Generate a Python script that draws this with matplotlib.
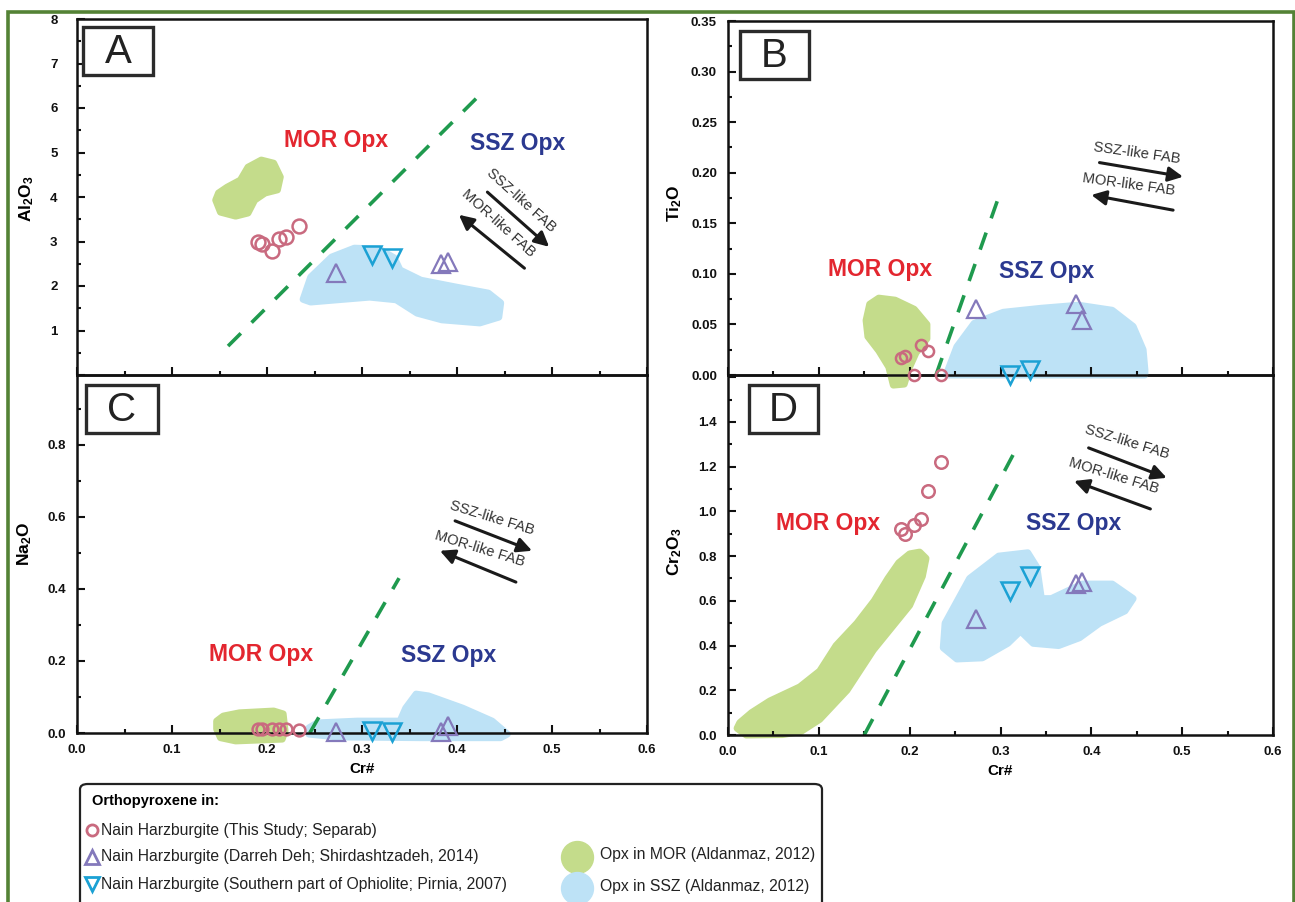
import matplotlib
matplotlib.use("Agg")
import matplotlib.pyplot as plt
from matplotlib import font_manager
from matplotlib.patches import Polygon, Rectangle, FancyBboxPatch
from matplotlib.lines import Line2D
from matplotlib.ticker import MultipleLocator

plt.rcParams["font.family"] = ["Liberation Sans", "DejaVu Sans"]
plt.rcParams["mathtext.fontset"] = "custom"
plt.rcParams["mathtext.rm"] = "Liberation Sans"
plt.rcParams["mathtext.bf"] = "Liberation Sans:bold"


def has_font(name):
    try:
        font_manager.findfont(font_manager.FontProperties(family=name),
                              fallback_to_default=False)
        return True
    except Exception:
        return False


NARROW = has_font("Liberation Sans Narrow")
NFONT = "Liberation Sans Narrow" if NARROW else "Liberation Sans"

W, H = 1295, 902

# ---- samples (Cr# shared across the four panels) ----
CR_SEPARAB  = [0.190, 0.195, 0.205, 0.213, 0.220, 0.234]
AL_SEPARAB  = [3.00, 2.95, 2.78, 3.05, 3.10, 3.35]
TI_SEPARAB  = [0.017, 0.019, 0.000, 0.030, 0.024, 0.000]
NA_SEPARAB  = [0.012, 0.012, 0.010, 0.010, 0.010, 0.008]
CRO_SEPARAB = [0.92, 0.90, 0.94, 0.965, 1.09, 1.22]

CR_DARREH  = [0.273, 0.383, 0.390]
AL_DARREH  = [2.29, 2.50, 2.55]
TI_DARREH  = [0.065, 0.070, 0.054]
NA_DARREH  = [0.003, 0.003, 0.020]
CRO_DARREH = [0.52, 0.675, 0.685]

CR_PIRNIA  = [0.310, 0.332]
AL_PIRNIA  = [2.70, 2.63]
TI_PIRNIA  = [0.000, 0.005]
NA_PIRNIA  = [0.006, 0.002]
CRO_PIRNIA = [0.645, 0.710]

# ---- Aldanmaz (2012) fields, (Cr#, oxide) outlines ----
MOR_A = [(0.149, 4.09), (0.158, 4.22), (0.172, 4.38), (0.180, 4.67), (0.194, 4.83),
         (0.207, 4.76), (0.214, 4.45), (0.211, 4.16), (0.198, 4.09), (0.187, 3.93),
         (0.180, 3.64), (0.167, 3.57), (0.151, 3.66), (0.146, 3.93)]
SSZ_A = [(0.238, 1.70), (0.246, 2.20), (0.268, 2.65), (0.292, 2.85), (0.318, 2.83),
         (0.334, 2.63), (0.340, 2.36), (0.362, 2.13), (0.398, 1.98), (0.433, 1.84),
         (0.446, 1.62), (0.444, 1.30), (0.424, 1.17), (0.384, 1.24), (0.358, 1.39),
         (0.336, 1.69), (0.308, 1.75), (0.274, 1.69), (0.246, 1.64)]
MOR_B = [(0.152, 0.054), (0.156, 0.070), (0.166, 0.076), (0.184, 0.074), (0.205, 0.065),
         (0.219, 0.050), (0.219, 0.036), (0.207, 0.022), (0.199, 0.006), (0.194, -0.009),
         (0.182, -0.010), (0.177, 0.008), (0.166, 0.024), (0.154, 0.038)]
SSZ_B = [(0.241, 0.002), (0.252, 0.028), (0.271, 0.051), (0.303, 0.062), (0.345, 0.066),
         (0.386, 0.069), (0.423, 0.064), (0.446, 0.048), (0.457, 0.025), (0.459, 0.005),
         (0.459, 0.000), (0.241, 0.000)]
MOR_C = [(0.147, 0.033), (0.154, 0.047), (0.171, 0.056), (0.207, 0.061), (0.217, 0.053),
         (0.219, 0.006), (0.216, -0.017), (0.167, -0.022), (0.151, -0.013), (0.147, 0.011)]
SSZ_C = [(0.244, 0.014), (0.253, 0.028), (0.295, 0.033), (0.340, 0.033), (0.346, 0.069),
         (0.357, 0.108), (0.370, 0.103), (0.406, 0.069), (0.437, 0.033), (0.453, -0.003),
         (0.446, -0.013), (0.362, -0.013), (0.274, -0.011), (0.244, -0.003)]
MOR_D = [(0.010, 0.030), (0.013, 0.055), (0.026, 0.100), (0.046, 0.152), (0.079, 0.215),
         (0.101, 0.286), (0.119, 0.400), (0.142, 0.500), (0.161, 0.600), (0.176, 0.700),
         (0.188, 0.770), (0.200, 0.810), (0.211, 0.818), (0.218, 0.790), (0.214, 0.710),
         (0.200, 0.580), (0.184, 0.500), (0.160, 0.380), (0.131, 0.200), (0.101, 0.070),
         (0.080, 0.015), (0.060, 0.002), (0.020, 0.000)]
SSZ_D = [(0.239, 0.50), (0.266, 0.70), (0.298, 0.80), (0.330, 0.815), (0.340, 0.75),
         (0.345, 0.61), (0.356, 0.61), (0.390, 0.675), (0.423, 0.675), (0.446, 0.61),
         (0.437, 0.555), (0.409, 0.50), (0.387, 0.435), (0.364, 0.40), (0.336, 0.41),
         (0.322, 0.465), (0.308, 0.41), (0.280, 0.345), (0.252, 0.34), (0.237, 0.39)]

# ---- discrimination lines ----
LINE_A = ([0.159, 0.428], [0.65, 6.38])
LINE_B = ([0.229, 0.298], [0.0, 0.176])
LINE_C = ([0.245, 0.339], [0.0, 0.43])
LINE_D = ([0.150, 0.320], [0.0, 1.30])

C_GREEN = "#c4dc8b"
C_BLUE = "#bde2f6"
C_CIRC = "#c96a7f"
C_UP = "#8479bb"
C_DOWN = "#1ba1d4"
C_DASH = "#1f9a4e"
C_MOR = "#e3262f"
C_SSZ = "#2b3990"


def fx(px):
    return px / W


def fy(py):
    return 1 - py / H


fig = plt.figure(figsize=(W / 100, H / 100), dpi=100)
fig.patch.set_facecolor("white")

# pixel boxes: left, top, right, bottom
boxes = {"A": (77, 19, 647, 375), "B": (728, 21, 1273, 375),
         "C": (77, 375, 647, 733), "D": (728, 375, 1273, 735)}
axes = {}
for k, (l, t, r, b) in boxes.items():
    axes[k] = fig.add_axes([fx(l), fy(b), (r - l) / W, (b - t) / H])
# upper panels on top so their fields/points can spill over the shared edge
axes["A"].set_zorder(3)
axes["B"].set_zorder(3)

panels = {
    "A": dict(ylim=8, major=1, minor=0.5, fmt="{:.0f}", ylabel=r"$\mathbf{Al_2O_3}$",
              y=(AL_SEPARAB, AL_DARREH, AL_PIRNIA), mor=MOR_A, ssz=SSZ_A, line=LINE_A,
              labx=-0.072, laby=0.494, ypad=14, csize=10, hide=(0,), xlab=False,
              mortxt=(0.273, 5.28), ssztxt=(0.464, 5.21),
              arr1=((0.432, 4.11), (0.497, 2.88)), arr2=((0.471, 2.40), (0.402, 3.60)),
              t1=(0.468, 3.93), t2=(0.444, 3.41), rot=-42),
    "B": dict(ylim=0.35, major=0.05, minor=0.025, fmt="{:.2f}", ylabel=r"$\mathbf{Ti_2O}$",
              y=(TI_SEPARAB, TI_DARREH, TI_PIRNIA), mor=MOR_B, ssz=SSZ_B, line=LINE_B,
              labx=-0.081, laby=0.486, ypad=8, csize=8, hide=(), xlab=False,
              mortxt=(0.167, 0.104), ssztxt=(0.351, 0.102),
              arr1=((0.409, 0.210), (0.501, 0.196)), arr2=((0.490, 0.163), (0.400, 0.178)),
              t1=(0.450, 0.219), t2=(0.441, 0.188), rot=-8),
    "C": dict(ylim=0.994, major=0.2, minor=0.1, fmt="{:.1f}", ylabel=r"$\mathbf{Na_2O}$",
              y=(NA_SEPARAB, NA_DARREH, NA_PIRNIA), mor=MOR_C, ssz=SSZ_C, line=LINE_C,
              labx=-0.075, laby=0.528, ypad=8, csize=8.5, hide=(), xlab=True,
              mortxt=(0.194, 0.219), ssztxt=(0.391, 0.214),
              arr1=((0.398, 0.589), (0.479, 0.506)), arr2=((0.462, 0.419), (0.382, 0.506)),
              t1=(0.437, 0.597), t2=(0.424, 0.511), rot=-17),
    "D": dict(ylim=1.61, major=0.2, minor=0.1, fmt="{:.1f}", ylabel=r"$\mathbf{Cr_2O_3}$",
              y=(CRO_SEPARAB, CRO_DARREH, CRO_PIRNIA), mor=MOR_D, ssz=SSZ_D, line=LINE_D,
              labx=-0.081, laby=0.51, ypad=8, csize=9, hide=(-1,), xlab=True,
              mortxt=(0.110, 0.944), ssztxt=(0.381, 0.944),
              arr1=((0.397, 1.284), (0.483, 1.150)), arr2=((0.465, 1.011), (0.381, 1.136)),
              t1=(0.439, 1.31), t2=(0.425, 1.16), rot=-17),
}

big = 18 if NARROW else 16.5
small = 11.5 if NARROW else 10.5

for k, p in panels.items():
    ax = axes[k]
    ax.patch.set_visible(False)
    ax.set_xlim(0, 0.6)
    for s in ax.spines.values():
        s.set_linewidth(1.8)
        s.set_color("#111111")
    ax.xaxis.set_major_locator(MultipleLocator(0.1))
    ax.xaxis.set_minor_locator(MultipleLocator(0.05))
    ax.yaxis.set_minor_locator(MultipleLocator(p["minor"]))
    ax.tick_params(which="both", direction="in", top=False, right=False, width=1.5,
                   labelsize=9.5, colors="#111111")
    ax.tick_params(which="major", length=6)
    ax.tick_params(which="minor", length=3)
    ax.tick_params(axis="y", pad=p["ypad"])
    ax.tick_params(axis="x", pad=8)
    n = int(p["ylim"] / p["major"] + 1e-6)
    yt = [round(i * p["major"], 4) for i in range(n + 1)]
    ax.set_yticks(yt)
    ylabels = [p["fmt"].format(t) for t in yt]
    for i in p["hide"]:
        ylabels[i] = ""
    ax.set_yticklabels(ylabels, fontweight="bold")
    ax.set_ylim(0, p["ylim"])
    if p["xlab"]:
        ax.set_xticks([0, 0.1, 0.2, 0.3, 0.4, 0.5, 0.6])
        ax.set_xticklabels(["0.0", "0.1", "0.2", "0.3", "0.4", "0.5", "0.6"],
                           fontweight="bold")
        ax.set_xlabel("Cr#", fontsize=11, fontweight="bold", labelpad=4)
    else:
        ax.tick_params(axis="x", labelbottom=False)
    ax.set_xlim(0, 0.6)
    ax.set_ylabel(p["ylabel"], fontsize=12.5)
    ax.yaxis.set_label_coords(p["labx"], p["laby"])

    for pts, col in ((p["mor"], C_GREEN), (p["ssz"], C_BLUE)):
        ax.add_patch(Polygon(pts, closed=True, fc=col, ec=col, lw=5,
                             joinstyle="round", clip_on=False, zorder=1))
    ax.plot(p["line"][0], p["line"][1], color=C_DASH, lw=2.6, dashes=(5, 4.2),
            solid_capstyle="butt", zorder=2)

    ys_sep, ys_dd, ys_pi = p["y"]
    ax.plot(CR_SEPARAB, ys_sep, "o", ms=p["csize"], mfc="none", mec=C_CIRC,
            mew=1.8, clip_on=False, zorder=4)
    ax.plot(CR_DARREH, ys_dd, "^", ms=13, mfc="none", mec=C_UP, mew=1.6,
            clip_on=False, zorder=4)
    ax.plot(CR_PIRNIA, ys_pi, "v", ms=13, mfc="none", mec=C_DOWN, mew=1.8,
            clip_on=False, zorder=4)

    ax.text(*p["mortxt"], "MOR Opx", color=C_MOR, fontsize=big, fontweight="bold",
            family=NFONT, ha="center", va="center", zorder=5)
    ax.text(*p["ssztxt"], "SSZ Opx", color=C_SSZ, fontsize=big, fontweight="bold",
            family=NFONT, ha="center", va="center", zorder=5)
    for (tail, head) in (p["arr1"], p["arr2"]):
        ax.annotate("", xy=head, xytext=tail,
                    arrowprops=dict(arrowstyle="-|>", lw=2.2, color="#1a1a1a",
                                    mutation_scale=22, shrinkA=0, shrinkB=0))
    ax.text(*p["t1"], "SSZ-like FAB", fontsize=small, family=NFONT, color="#333333",
            rotation=p["rot"], ha="center", va="center", rotation_mode="anchor")
    ax.text(*p["t2"], "MOR-like FAB", fontsize=small, family=NFONT, color="#333333",
            rotation=p["rot"], ha="center", va="center", rotation_mode="anchor")

# panel letters
letters = {"A": (83, 27, 153, 75), "B": (740, 31, 809, 79),
           "C": (86, 385, 158, 433), "D": (749, 385, 818, 433)}
for k, (l, t, r, b) in letters.items():
    fig.add_artist(Rectangle((fx(l), fy(b)), (r - l) / W, (b - t) / H, fill=False,
                             ec="#2b2b2b", lw=2.4, transform=fig.transFigure, zorder=10))
    fig.text(fx((l + r) / 2), fy((t + b) / 2 + 1), k, fontsize=29, ha="center",
             va="center", color="#222222", zorder=11)

# legend
fig.add_artist(FancyBboxPatch((fx(80), fy(915)), (822 - 80) / W, (915 - 784) / H,
                              boxstyle="round,pad=0,rounding_size=0.006",
                              fc="white", ec="#222222", lw=1.6,
                              transform=fig.transFigure, zorder=10))
leg_font = 12 if NARROW else 11.3
fig.text(fx(92), fy(801), "Orthopyroxene in:", fontsize=leg_font - 0.8,
         fontweight="bold", family=NFONT, va="center", zorder=11)
legend_rows = [
    ("o", C_CIRC, 8, "Nain Harzburgite (This Study; Separab)", 830),
    ("^", C_UP, 10.5, "Nain Harzburgite (Darreh Deh; Shirdashtzadeh, 2014)", 857),
    ("v", C_DOWN, 10.5, "Nain Harzburgite (Southern part of Ophiolite; Pirnia, 2007)", 884),
]
for m, col, ms, label, py in legend_rows:
    fig.add_artist(Line2D([fx(92)], [fy(py)], marker=m, ms=ms, mfc="none", mec=col,
                          mew=2, transform=fig.transFigure, zorder=11))
    fig.text(fx(101), fy(py), label, fontsize=leg_font, family=NFONT, va="center",
             color="#222222", zorder=11)
for col, label, py in ((C_GREEN, "Opx in MOR (Aldanmaz, 2012)", 857),
                       (C_BLUE, "Opx in SSZ (Aldanmaz, 2012)", 888)):
    fig.add_artist(Line2D([fx(577)], [fy(py)], marker="o", ms=23, mfc=col, mec=col,
                          transform=fig.transFigure, zorder=11))
    fig.text(fx(600), fy(py - 2), label, fontsize=leg_font, family=NFONT, va="center",
             color="#222222", zorder=11)

# green outer frame
fig.add_artist(Rectangle((fx(8), fy(920)), (1294 - 8) / W, (920 - 12) / H, fill=False,
                         ec="#548235", lw=2.6, transform=fig.transFigure, zorder=12))

fig.savefig("out.png", dpi=100, facecolor="white")
